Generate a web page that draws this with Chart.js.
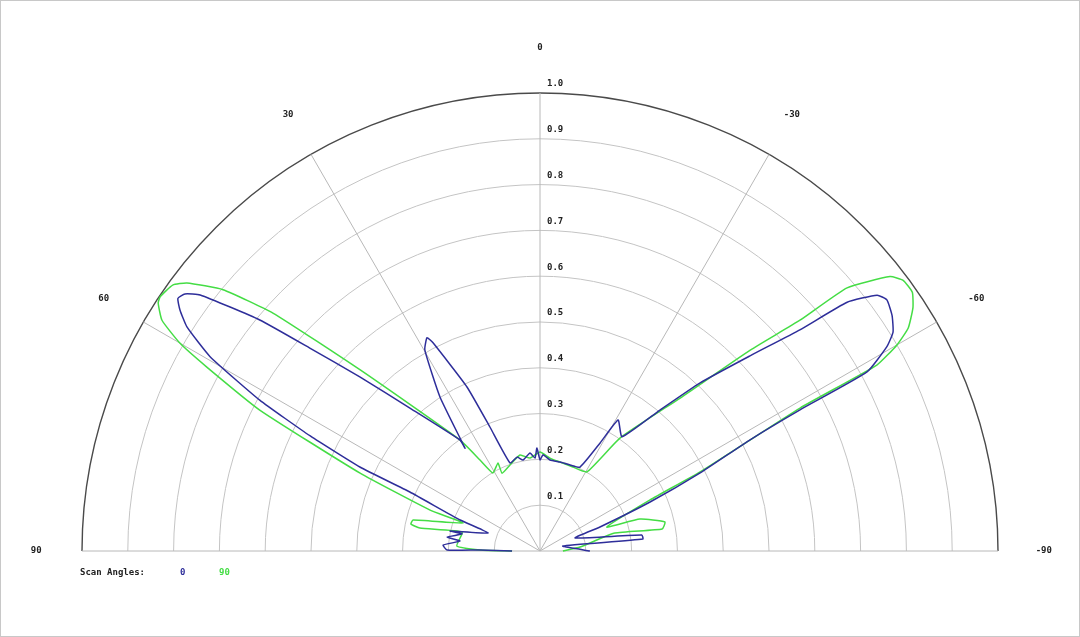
<!DOCTYPE html>
<html>
<head>
<meta charset="utf-8">
<script src="https://cdn.jsdelivr.net/npm/chart.js@4.4.1/dist/chart.umd.min.js"></script>
<style>
  html, body { margin: 0; padding: 0; background: #fff; }
  #polarChart { display: block; }
</style>
</head>
<body>
<canvas id="polarChart" width="1080" height="637"></canvas>
<script>
//  Scan angle 0 (blue): angle in degrees (positive = left), normalised magnitude
const scan0_angles = [90, 89, 89.4, 86.5, 82.9, 81.4, 77.7, 77.5, 70.9, 68.8,
    65.6, 65.0, 63.4, 61.7, 59.5, 57.6, 56.2, 55.1, 54.1, 53.0,
    50.5, 48.6, 46.0, 42.3, 35.8, 36.1, 33.0, 29.8, 27.9, 27.2,
    24.0, 22.0, 18.8, 13.7, 10.6, 5.8, 3.1, 1.7, 0, -1.8,
    -6.3, -12.7, -19.2, -25.5, -29.1, -30.8, -35.7, -40.4, -43.6, -47.1,
    -49.6, -51.0, -52.8, -54.1, -56.2, -58.2, -59.5, -61.3, -61.5, -62.1,
    -64.0, -66.0, -68.2, -69.6, -81.1, -83.4, -77.7, -90];
const scan0_mags = [0.061, 0.131, 0.203, 0.212, 0.176, 0.205, 0.174, 0.201, 0.120, 0.187,
    0.312, 0.434, 0.561, 0.695, 0.836, 0.913, 0.946, 0.964, 0.957, 0.929,
    0.793, 0.670, 0.547, 0.422, 0.299, 0.278, 0.401, 0.506, 0.527, 0.511,
    0.392, 0.292, 0.203, 0.211, 0.202, 0.215, 0.203, 0.225, 0.199, 0.210,
    0.200, 0.199, 0.199, 0.203, 0.270, 0.333, 0.307, 0.404, 0.507, 0.626,
    0.745, 0.863, 0.924, 0.935, 0.925, 0.907, 0.879, 0.814, 0.646, 0.519,
    0.389, 0.263, 0.141, 0.082, 0.225, 0.226, 0.051, 0.109];

//  Scan angle 90 (green)
const scan90_angles = [90, 89, 86.6, 76.3, 79.2, 78.2, 76.3, 70.0, 69.6, 66.6,
    63.3, 61.1, 60.0, 58.6, 57.0, 56.2, 54.1, 52.8, 50.5, 48.3,
    44.8, 35.8, 33.4, 31.1, 25.5, 26.0, 19.2, 11.8, 6.1, 0,
    -6.1, -12.7, -21.4, -30.7, -35.3, -42.5, -46.3, -48.4, -49.4, -51.9,
    -53.3, -55.2, -56.9, -58.8, -60.0, -61.1, -61.2, -63.7, -65.1, -70.3,
    -72.3, -76.9, -79.8, -76.5, -84.3, -90];
const scan90_mags = [0.061, 0.131, 0.182, 0.175, 0.267, 0.288, 0.285, 0.179, 0.256, 0.428,
    0.685, 0.831, 0.908, 0.967, 0.994, 0.998, 0.990, 0.968, 0.897, 0.781,
    0.557, 0.299, 0.238, 0.199, 0.213, 0.189, 0.199, 0.214, 0.204, 0.216,
    0.204, 0.199, 0.197, 0.201, 0.302, 0.453, 0.635, 0.759, 0.883, 0.971,
    0.989, 0.990, 0.972, 0.940, 0.900, 0.840, 0.648, 0.390, 0.265, 0.155,
    0.229, 0.280, 0.271, 0.168, 0.088, 0.050];

//  Grid / tick values
const ring_values   = [0.1, 0.2, 0.3, 0.4, 0.5, 0.6, 0.7, 0.8, 0.9, 1.0];
const ring_labels   = ["0.1", "0.2", "0.3", "0.4", "0.5", "0.6", "0.7", "0.8", "0.9", "1.0"];
const spoke_angles  = [90, 60, 30, 0, -30, -60, -90];
const spoke_labels  = ["90", "60", "30", "0", "-30", "-60", "-90"];
const legend_title  = "Scan Angles:";

const monoFont = "bold 9px 'DejaVu Sans Mono', 'Liberation Mono', monospace";

//  Перевод полярных координат в декартовы (угол в градусах, положительный - влево)
function toXY(angles, mags){
    let pts = [];
    for(let i=0; i<angles.length; i++){
        const a = angles[i] * Math.PI / 180;
        pts.push({x: -mags[i] * Math.sin(a), y: mags[i] * Math.cos(a)});
    }
    return pts;
}

//  Сетка: полуокружности, лучи, подписи
const polarGrid = {
    id: 'polarGrid',
    beforeDatasetsDraw(chart){
        const ctx = chart.ctx;
        const xs = chart.scales.x;
        const ys = chart.scales.y;
        const cx = xs.getPixelForValue(0);
        const cy = ys.getPixelForValue(0);
        const rpx = v => xs.getPixelForValue(v) - cx;

        ctx.save();
        //  кольца
        ring_values.forEach((v, i) => {
            ctx.beginPath();
            ctx.arc(cx, cy, rpx(v), Math.PI, 2 * Math.PI);
            if(i === ring_values.length - 1){
                ctx.strokeStyle = "#4a4a4a";
                ctx.lineWidth = 1.4;
            } else {
                ctx.strokeStyle = "#c4c4c4";
                ctx.lineWidth = 1;
            }
            ctx.stroke();
        });
        //  лучи
        const rmax = ring_values[ring_values.length - 1];
        ctx.strokeStyle = "#b8b8b8";
        ctx.lineWidth = 1;
        spoke_angles.forEach(a => {
            const t = a * Math.PI / 180;
            ctx.beginPath();
            ctx.moveTo(cx, cy);
            ctx.lineTo(xs.getPixelForValue(-rmax * Math.sin(t)), ys.getPixelForValue(rmax * Math.cos(t)));
            ctx.stroke();
        });
        //  подписи углов
        ctx.font = monoFont;
        ctx.fillStyle = "#222";
        ctx.textAlign = "center";
        ctx.textBaseline = "middle";
        spoke_angles.forEach((a, i) => {
            const t = a * Math.PI / 180;
            ctx.fillText(spoke_labels[i], xs.getPixelForValue(-1.1 * Math.sin(t)), ys.getPixelForValue(1.1 * Math.cos(t)));
        });
        //  подписи колец
        ctx.textAlign = "left";
        ring_values.forEach((v, i) => {
            ctx.fillText(ring_labels[i], cx + 7, ys.getPixelForValue(v) - 9);
        });
        ctx.restore();
    },
    afterDraw(chart){
        const ctx = chart.ctx;
        ctx.save();
        //  легенда
        ctx.font = monoFont;
        ctx.textBaseline = "middle";
        ctx.textAlign = "left";
        ctx.fillStyle = "#222";
        ctx.fillText(legend_title, 80, 573);
        let lx = 180;
        chart.data.datasets.forEach(ds => {
            ctx.fillStyle = ds.borderColor;
            ctx.fillText(ds.label, lx, 573);
            lx += 39;
        });
        //  рамка
        ctx.strokeStyle = "#c8c8c8";
        ctx.lineWidth = 1;
        ctx.strokeRect(0.5, 0.5, chart.width - 1, chart.height - 1);
        ctx.restore();
    }
};

//  config
const config = {
    type: 'scatter',
    data: {
        datasets: [
            {
                label: '0',
                data: toXY(scan0_angles, scan0_mags),
                showLine: true,
                borderColor: '#2e2e9a',
                borderWidth: 1.5,
                pointRadius: 0,
                tension: 0.15
            },
            {
                label: '90',
                data: toXY(scan90_angles, scan90_mags),
                showLine: true,
                borderColor: '#45dd45',
                borderWidth: 1.5,
                pointRadius: 0,
                tension: 0.15
            }
        ]
    },
    options: {
        responsive: false,
        animation: false,
        layout: { padding: 0 },
        plugins: {
            legend: { display: false },
            tooltip: { enabled: false }
        },
        scales: {
            x: { type: 'linear', display: false, min: -540 / 458, max: 540 / 458 },
            y: { type: 'linear', display: false, min: -86 / 458, max: 551 / 458 }
        }
    },
    plugins: [polarGrid]
};

let myChart = new Chart(document.getElementById('polarChart'), config);
</script>
</body>
</html>
